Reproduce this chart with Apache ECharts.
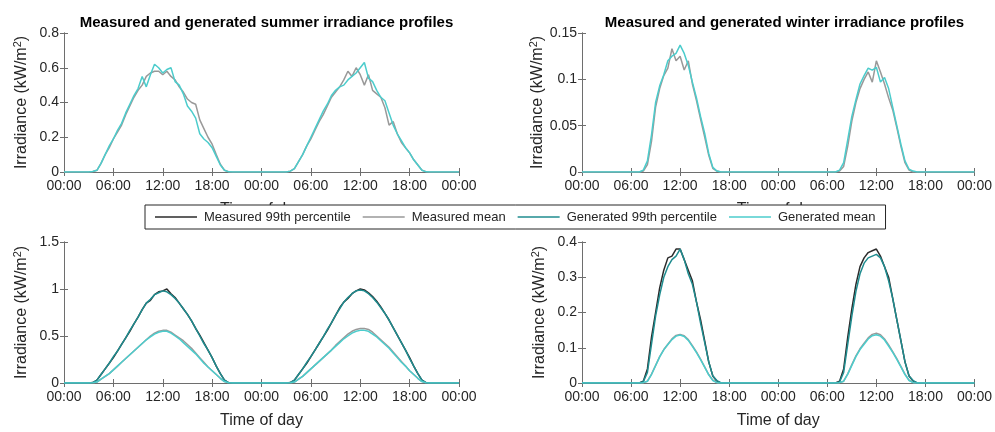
<!DOCTYPE html>
<html>
<head>
<meta charset="utf-8">
<script src="https://cdn.jsdelivr.net/npm/echarts@6/dist/echarts.min.js"></script>
<style>html,body{margin:0;padding:0;background:#fff}#c{width:995px;height:432px}</style>
</head>
<body>
<div id="c"></div>
<script>
// time of day in hours over two days (30-min steps)
const hours = [0,0.5,1,1.5,2,2.5,3,3.5,4,4.5,5,5.5,6,6.5,7,7.5,8,8.5,9,9.5,10,10.5,11,11.5,12,12.5,13,13.5,14,14.5,15,15.5,16,16.5,17,17.5,18,18.5,19,19.5,20,20.5,21,21.5,22,22.5,23,23.5,
24,24.5,25,25.5,26,26.5,27,27.5,28,28.5,29,29.5,30,30.5,31,31.5,32,32.5,33,33.5,34,34.5,35,35.5,36,36.5,37,37.5,38,38.5,39,39.5,40,40.5,41,41.5,42,42.5,43,43.5,44,44.5,45,45.5,46,46.5,47,47.5,48];
const xTickLabels = ['00:00','06:00','12:00','18:00','00:00','06:00','12:00','18:00','00:00'];
const seriesNames = ['Measured 99th percentile','Measured mean','Generated 99th percentile','Generated mean'];
const panelTitles = ['Measured and generated summer irradiance profiles','Measured and generated winter irradiance profiles'];

// Top-left: summer daily profiles (kW/m2)
const summerTopMeasured = [0,0,0,0,0,0,0,0.003,0.01,0.05,0.10,0.14,0.19,0.23,0.27,0.33,0.38,0.43,0.47,0.50,0.55,0.57,0.58,0.58,0.56,0.58,0.55,0.53,0.49,0.46,0.42,0.40,0.39,0.30,0.25,0.20,0.16,0.10,0.045,0.01,0.002,0,0,0,0,0,0,0,
0,0,0,0,0,0,0,0.005,0.02,0.06,0.10,0.15,0.19,0.24,0.29,0.33,0.38,0.43,0.46,0.49,0.53,0.58,0.55,0.60,0.56,0.50,0.56,0.47,0.45,0.43,0.37,0.27,0.29,0.22,0.17,0.14,0.11,0.07,0.04,0.01,0.002,0,0,0,0,0,0,0,0];
const summerTopGenerated = [0,0,0,0,0,0,0,0.003,0.01,0.05,0.10,0.15,0.19,0.24,0.28,0.34,0.39,0.44,0.48,0.55,0.49,0.56,0.62,0.60,0.57,0.59,0.60,0.52,0.50,0.45,0.38,0.35,0.31,0.22,0.19,0.17,0.14,0.09,0.04,0.01,0.001,0,0,0,0,0,0,0,
0,0,0,0,0,0,0,0.005,0.02,0.06,0.10,0.15,0.20,0.25,0.30,0.35,0.39,0.44,0.47,0.49,0.50,0.53,0.55,0.57,0.60,0.63,0.54,0.52,0.47,0.43,0.41,0.34,0.27,0.22,0.18,0.14,0.11,0.07,0.04,0.01,0.001,0,0,0,0,0,0,0,0];

// Top-right: winter daily profiles
const winterTopMeasured = [0,0,0,0,0,0,0,0,0,0,0,0,0,0,0,0.001,0.008,0.033,0.07,0.09,0.104,0.112,0.133,0.12,0.125,0.11,0.12,0.095,0.077,0.057,0.038,0.018,0.004,0.001,0,0,0,0,0,0,0,0,0,0,0,0,0,0,
0,0,0,0,0,0,0,0,0,0,0,0,0,0,0,0.001,0.006,0.028,0.055,0.075,0.09,0.1,0.108,0.097,0.12,0.108,0.095,0.08,0.067,0.048,0.028,0.01,0.002,0,0,0,0,0,0,0,0,0,0,0,0,0,0,0,0];
const winterTopGenerated = [0,0,0,0,0,0,0,0,0,0,0,0,0,0,0,0.002,0.012,0.04,0.075,0.093,0.105,0.12,0.125,0.128,0.137,0.128,0.115,0.097,0.08,0.06,0.042,0.02,0.005,0.001,0,0,0,0,0,0,0,0,0,0,0,0,0,0,
0,0,0,0,0,0,0,0,0,0,0,0,0,0,0,0.002,0.01,0.035,0.06,0.078,0.095,0.104,0.112,0.11,0.113,0.097,0.102,0.09,0.07,0.05,0.03,0.012,0.003,0.001,0,0,0,0,0,0,0,0,0,0,0,0,0,0,0];

// Bottom-left: summer statistics
const summerMeas99 = [0,0,0,0,0,0,0,0.005,0.03,0.09,0.15,0.21,0.27,0.34,0.41,0.48,0.55,0.63,0.70,0.78,0.85,0.88,0.94,0.97,0.98,1.0,0.95,0.91,0.85,0.79,0.73,0.66,0.58,0.51,0.43,0.35,0.27,0.18,0.10,0.03,0.003,0,0,0,0,0,0,0,
0,0,0,0,0,0,0,0.005,0.03,0.09,0.15,0.21,0.28,0.35,0.42,0.49,0.56,0.64,0.72,0.80,0.86,0.90,0.95,0.98,1.0,0.99,0.96,0.92,0.87,0.81,0.74,0.67,0.59,0.51,0.43,0.35,0.27,0.18,0.10,0.03,0.003,0,0,0,0,0,0,0,0];
const summerMeasMean = [0,0,0,0,0,0,0,0.002,0.01,0.04,0.07,0.10,0.14,0.18,0.22,0.26,0.30,0.34,0.38,0.42,0.46,0.50,0.53,0.55,0.56,0.56,0.54,0.51,0.48,0.45,0.41,0.37,0.32,0.27,0.22,0.17,0.13,0.09,0.05,0.015,0.002,0,0,0,0,0,0,0,
0,0,0,0,0,0,0,0.002,0.01,0.04,0.07,0.11,0.15,0.19,0.23,0.27,0.31,0.35,0.40,0.44,0.48,0.52,0.55,0.57,0.58,0.58,0.57,0.54,0.50,0.46,0.42,0.38,0.33,0.28,0.23,0.18,0.13,0.09,0.05,0.015,0.002,0,0,0,0,0,0,0,0];
const summerGen99 = [0,0,0,0,0,0,0,0.004,0.03,0.09,0.15,0.21,0.28,0.34,0.41,0.48,0.56,0.63,0.70,0.78,0.85,0.89,0.94,0.96,0.98,0.97,0.94,0.90,0.85,0.79,0.73,0.66,0.58,0.50,0.42,0.35,0.27,0.18,0.10,0.03,0.002,0,0,0,0,0,0,0,
0,0,0,0,0,0,0,0.004,0.03,0.09,0.15,0.22,0.28,0.35,0.42,0.49,0.57,0.64,0.72,0.79,0.86,0.91,0.95,0.98,0.99,0.98,0.95,0.91,0.86,0.80,0.74,0.67,0.59,0.51,0.43,0.35,0.26,0.18,0.10,0.03,0.002,0,0,0,0,0,0,0,0];
const summerGenMean = [0,0,0,0,0,0,0,0.002,0.01,0.04,0.07,0.10,0.14,0.18,0.22,0.26,0.30,0.34,0.38,0.42,0.46,0.49,0.52,0.54,0.55,0.55,0.53,0.50,0.47,0.43,0.39,0.35,0.31,0.26,0.21,0.17,0.13,0.09,0.05,0.015,0.002,0,0,0,0,0,0,0,
0,0,0,0,0,0,0,0.002,0.01,0.04,0.07,0.11,0.15,0.19,0.23,0.27,0.31,0.35,0.39,0.43,0.47,0.50,0.53,0.55,0.56,0.56,0.55,0.52,0.49,0.45,0.41,0.37,0.32,0.27,0.22,0.18,0.13,0.09,0.05,0.015,0.002,0,0,0,0,0,0,0,0];

// Bottom-right: winter statistics
const winterMeas99 = [0,0,0,0,0,0,0,0,0,0,0,0,0,0,0,0.005,0.04,0.13,0.20,0.27,0.32,0.355,0.36,0.38,0.38,0.35,0.32,0.29,0.23,0.18,0.12,0.06,0.02,0.005,0,0,0,0,0,0,0,0,0,0,0,0,0,0,
0,0,0,0,0,0,0,0,0,0,0,0,0,0,0,0.005,0.04,0.13,0.21,0.28,0.33,0.355,0.37,0.375,0.38,0.36,0.33,0.30,0.24,0.18,0.12,0.06,0.02,0.005,0,0,0,0,0,0,0,0,0,0,0,0,0,0,0];
const winterMeasMean = [0,0,0,0,0,0,0,0,0,0,0,0,0,0,0,0.001,0.005,0.025,0.05,0.075,0.095,0.11,0.125,0.135,0.138,0.134,0.123,0.106,0.088,0.068,0.046,0.024,0.008,0.001,0,0,0,0,0,0,0,0,0,0,0,0,0,0,
0,0,0,0,0,0,0,0,0,0,0,0,0,0,0,0.001,0.005,0.026,0.052,0.077,0.097,0.113,0.128,0.138,0.141,0.137,0.125,0.108,0.089,0.069,0.047,0.025,0.008,0.001,0,0,0,0,0,0,0,0,0,0,0,0,0,0,0];
const winterGen99 = [0,0,0,0,0,0,0,0,0,0,0,0,0,0,0,0.004,0.03,0.11,0.19,0.25,0.30,0.33,0.35,0.36,0.38,0.35,0.31,0.28,0.23,0.17,0.115,0.06,0.02,0.007,0,0,0,0,0,0,0,0,0,0,0,0,0,0,
0,0,0,0,0,0,0,0,0,0,0,0,0,0,0,0.003,0.03,0.11,0.19,0.26,0.31,0.34,0.355,0.36,0.365,0.355,0.33,0.29,0.24,0.18,0.12,0.06,0.02,0.007,0,0,0,0,0,0,0,0,0,0,0,0,0,0,0];
const winterGenMean = [0,0,0,0,0,0,0,0,0,0,0,0,0,0,0,0.001,0.005,0.024,0.049,0.074,0.094,0.109,0.123,0.133,0.136,0.132,0.121,0.104,0.086,0.066,0.045,0.023,0.007,0.001,0,0,0,0,0,0,0,0,0,0,0,0,0,0,
0,0,0,0,0,0,0,0,0,0,0,0,0,0,0,0.001,0.005,0.025,0.05,0.075,0.095,0.11,0.125,0.134,0.137,0.133,0.122,0.105,0.087,0.067,0.046,0.024,0.007,0.001,0,0,0,0,0,0,0,0,0,0,0,0,0,0,0];

const yMax = [0.8, 0.15, 1.5, 0.4];
const yStep = [0.2, 0.05, 0.5, 0.1];

const FONT = '"Liberation Sans", Arial, Helvetica, sans-serif';
const TXT = '#262626';
const AX = '#6e6e6e';
const colors = {
  'Measured 99th percentile': '#2b2b2b',
  'Measured mean': '#999999',
  'Generated 99th percentile': '#1f8c8f',
  'Generated mean': '#4ccccc'
};

const grids = [
  {left: 64, top: 33, width: 395, height: 139},
  {left: 582, top: 33, width: 395, height: 139},
  {left: 64, top: 242, width: 395, height: 141},
  {left: 582, top: 242, width: 395, height: 141}
];

const xAxes = [], yAxes = [];
grids.forEach((g, i) => {
  xAxes.push({
    type: 'value', gridIndex: i, min: 0, max: 48, interval: 6, position: 'bottom',
    name: 'Time of day', nameLocation: 'middle', nameGap: 30,
    nameTextStyle: {fontFamily: FONT, fontSize: 16, color: TXT},
    axisLine: {show: true, lineStyle: {color: AX, width: 1}},
    axisTick: {show: true, inside: true, length: 4, lineStyle: {color: AX}},
    axisLabel: {fontFamily: FONT, fontSize: 14, color: TXT, margin: 7,
      formatter: v => xTickLabels[Math.round(v / 6)]},
    splitLine: {show: false}
  });
  xAxes.push({
    type: 'value', gridIndex: i, min: 0, max: 48, interval: 6, position: 'top',
    axisLine: {show: true, lineStyle: {color: AX, width: 1}},
    axisTick: {show: true, inside: true, length: 4, lineStyle: {color: AX}},
    axisLabel: {show: false}, splitLine: {show: false}
  });
  yAxes.push({
    type: 'value', gridIndex: i, min: 0, max: yMax[i], interval: yStep[i], position: 'left',
    name: 'Irradiance (kW/m{sup|2})', nameLocation: 'middle', nameGap: 33, nameRotate: 90,
    nameTextStyle: {fontFamily: FONT, fontSize: 16, color: TXT,
      rich: {sup: {fontFamily: FONT, fontSize: 11, color: TXT, padding: [0, 0, 8, 0]}}},
    axisLine: {show: true, lineStyle: {color: AX, width: 1}},
    axisTick: {show: true, inside: true, length: 4, lineStyle: {color: AX}},
    axisLabel: {fontFamily: FONT, fontSize: 14, color: TXT, margin: 5},
    splitLine: {show: false}
  });
  yAxes.push({
    type: 'value', gridIndex: i, min: 0, max: yMax[i], interval: yStep[i], position: 'right',
    axisLine: {show: true, lineStyle: {color: AX, width: 1}},
    axisTick: {show: true, inside: true, length: 4, lineStyle: {color: AX}},
    axisLabel: {show: false}, splitLine: {show: false}
  });
});

function mk(name, arr, panel) {
  return {
    type: 'line', name: name, xAxisIndex: panel * 2, yAxisIndex: panel * 2,
    data: hours.map((h, i) => [h, arr[i]]),
    symbol: 'none', showSymbol: false, smooth: false,
    lineStyle: {color: colors[name], width: 1.5},
    itemStyle: {color: colors[name]},
    emphasis: {disabled: true}
  };
}

const series = [
  mk('Measured mean', summerTopMeasured, 0),
  mk('Generated mean', summerTopGenerated, 0),
  mk('Measured mean', winterTopMeasured, 1),
  mk('Generated mean', winterTopGenerated, 1),
  mk('Measured 99th percentile', summerMeas99, 2),
  mk('Measured mean', summerMeasMean, 2),
  mk('Generated 99th percentile', summerGen99, 2),
  mk('Generated mean', summerGenMean, 2),
  mk('Measured 99th percentile', winterMeas99, 3),
  mk('Measured mean', winterMeasMean, 3),
  mk('Generated 99th percentile', winterGen99, 3),
  mk('Generated mean', winterGenMean, 3)
];

const chart = echarts.init(document.getElementById('c'), null, {renderer: 'canvas'});
chart.setOption({
  animation: false,
  backgroundColor: '#fff',
  title: [
    {text: panelTitles[0], left: 261.5, top: 10, textAlign: 'center',
     textStyle: {fontFamily: FONT, fontSize: 15, fontWeight: 'bold', color: '#000'}},
    {text: panelTitles[1], left: 779.5, top: 10, textAlign: 'center',
     textStyle: {fontFamily: FONT, fontSize: 15, fontWeight: 'bold', color: '#000'}}
  ],
  legend: {
    data: seriesNames.map(n => ({name: n, icon: 'rect', itemStyle: {color: colors[n]}})),
    left: 145, top: 205, orient: 'horizontal',
    padding: [5, 10, 5, 10], itemGap: 12, itemWidth: 42, itemHeight: 1.5,
    backgroundColor: '#fff', borderColor: '#262626', borderWidth: 1,
    textStyle: {fontFamily: FONT, fontSize: 13, color: TXT, padding: [0, 0, 0, 2], lineHeight: 14},
    selectedMode: false, z: 10
  },
  grid: grids,
  xAxis: xAxes,
  yAxis: yAxes,
  series: series
});
</script>
</body>
</html>
